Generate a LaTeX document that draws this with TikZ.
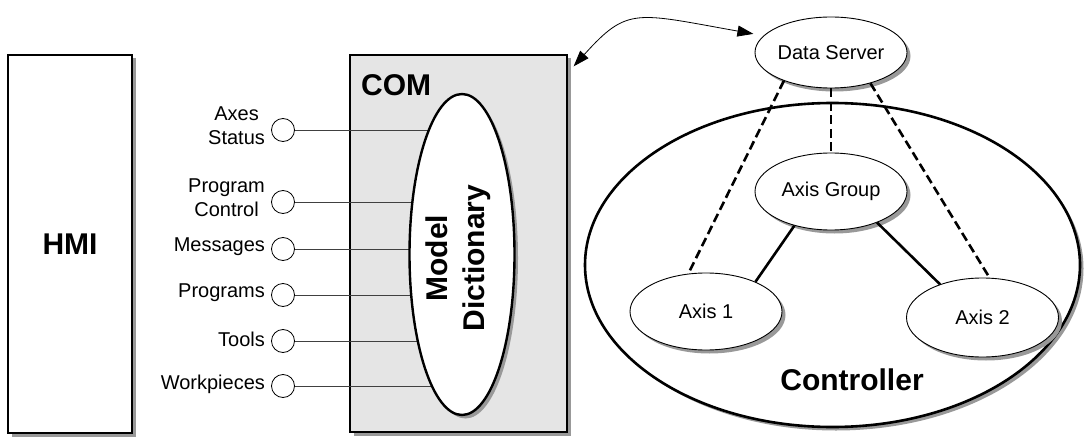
\documentclass[tikz,border=0pt]{standalone}
\usepackage{fontspec}
\setmainfont{Liberation Sans}
\usetikzlibrary{shapes.geometric,shadows,arrows.meta}
\begin{document}
\begin{tikzpicture}[x=1pt,y=-1pt,
  shadowed/.style={drop shadow={shadow xshift=3.5pt,shadow yshift=-3.5pt,opacity=1,fill=black!40}},
  big/.style={font=\fontsize{30}{37}\selectfont\bfseries, inner sep=0pt},
  lbl/.style={font=\fontsize{20}{24}\selectfont, align=center, inner sep=0pt, anchor=east},
  obj/.style={ellipse, draw, fill=white, line width=0.9pt, minimum width=152pt, minimum height=77pt, inner sep=0pt, shadowed, font=\fontsize{20}{24}\selectfont},
  port/.style={circle, draw, fill=white, line width=0.8pt, minimum size=23pt, inner sep=0pt},
  link/.style={draw=black!75, line width=0.9pt},
  dashlink/.style={line width=2.6pt, dash pattern=on 9pt off 4.5pt},
  solidlink/.style={line width=2.6pt},
  tip/.style={{Triangle[length=16pt,width=11pt]}-{Triangle[length=16pt,width=11pt]}}]

\path[fill=white] (0,0) rectangle (1084,441);

% HMI
\node[draw, line width=2.4pt, fill=white, shadowed, minimum width=124pt, minimum height=378pt, inner sep=0pt, big] (hmi) at (70,244) {HMI};

% COM box
\node[draw, line width=1.3pt, fill=black!10, shadowed, minimum width=217pt, minimum height=377pt, inner sep=0pt] (com) at (458.5,243.5) {};
\node[big, anchor=west] (comlbl) at (361,85) {COM};

% ports
\node[port] (p1) at (283,130) {};
\node[port] (p2) at (283,202) {};
\node[port] (p3) at (283,249) {};
\node[port] (p4) at (283,295) {};
\node[port] (p5) at (283,341) {};
\node[port] (p6) at (283,386) {};
\node[lbl] (l1) at ([shift={(-6,-4)}]p1.west) {Axes\\Status};
\node[lbl] (l2) at ([shift={(-6,-4)}]p2.west) {Program\\Control};
\node[lbl] (l3) at ([shift={(-6,-2)}]p3.west) {Messages};
\node[lbl] (l4) at ([shift={(-6,-2)}]p4.west) {Programs};
\node[lbl] (l5) at ([shift={(-6,-2)}]p5.west) {Tools};
\node[lbl] (l6) at ([shift={(-6,-2)}]p6.west) {Workpieces};

\coordinate (mdc) at (462,254.5);
\foreach \p in {p1,p2,p3,p4,p5,p6}
  \draw[link] (\p.east) -- (\p -| mdc);

% Model Dictionary
\node[ellipse, draw, fill=white, line width=2.4pt, shadowed, minimum width=105pt, minimum height=321pt, inner sep=0pt] (md) at (mdc) {};
\node[big, rotate=90, align=center] (mdtext) at (458.5,258) {Model\\Dictionary};

% Controller
\node[ellipse, draw, fill=white, line width=2.6pt, shadowed, minimum width=495pt, minimum height=324pt, inner sep=0pt] (ctrl) at (832.5,265) {};
\node[big] (ctrltext) at (852,380) {Controller};

\node[obj, minimum height=71pt] (ds) at (831,52.5) {Data Server};
\node[obj] (ag) at (831,191.5) {Axis Group};
\node[obj] (a1) at (706,311.5) {Axis 1};
\node[obj, minimum height=79pt] (a2) at (982.5,317.5) {Axis 2};

\draw[dashlink] (ds.211) -- (a1.115);
\draw[dashlink] (ds.south) -- (ag.north);
\draw[dashlink] (ds.322) -- (a2.80);
\draw[solidlink] (ag.223) -- (a1.31);
\draw[solidlink] (ag.326) -- (a2.142);

\draw[tip, line width=0.8pt] ([shift={(6,12)}]com.north east) .. controls +(54,-60) and +(-118,-21) .. ([shift={(-6,-6)}]ds.170);
\end{tikzpicture}
\end{document}
